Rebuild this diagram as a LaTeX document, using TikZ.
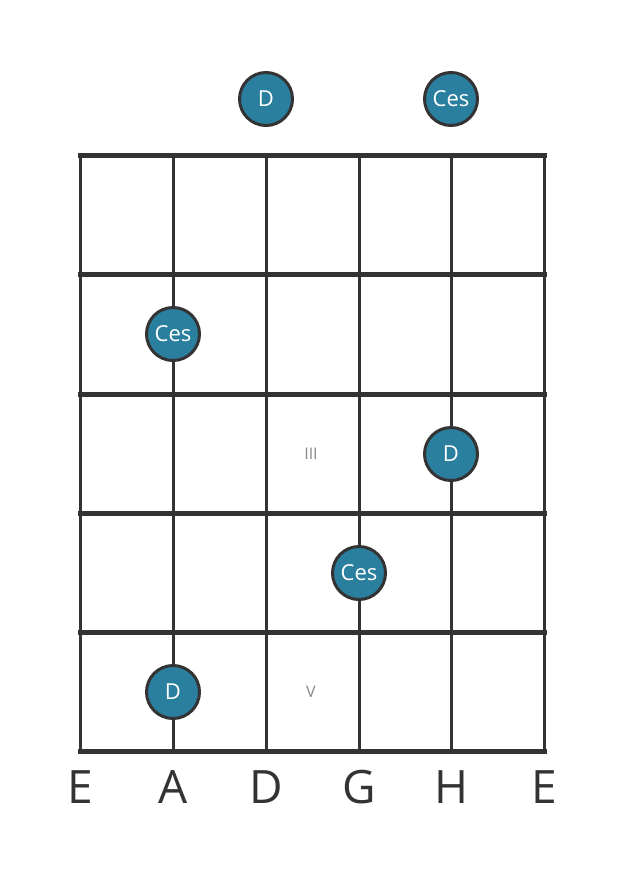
\documentclass[tikz,border=0pt]{standalone}
\usepackage{fontspec}
\setmainfont{Open Sans}
\usepackage{tikz}
\usetikzlibrary{positioning}
\definecolor{GridGray}{HTML}{333333}
\definecolor{DotTeal}{HTML}{2A7F9E}
\definecolor{LabelGray}{HTML}{888888}
\tikzset{
  fretline/.style={draw=GridGray, line width=5pt, line cap=rect},
  stringline/.style={draw=GridGray, line width=3pt},
  notedot/.style={circle, draw=GridGray, fill=DotTeal, line width=3pt, minimum size=53pt, inner sep=0pt, text=white, font=\fontsize{22}{22}\selectfont},
  fretlabel/.style={text=LabelGray, font=\fontsize{16}{16}\selectfont},
  stringname/.style={text=GridGray, font=\fontsize{46}{46}\selectfont}
}
\begin{document}
\begin{tikzpicture}[x=1pt, y=-1pt]
  \useasboundingbox (0,0) rectangle (626,873);

  % strings
  \foreach \x in {80,173,266,359,451,544}
    \draw[stringline] (\x,155) -- (\x,751);
  % frets
  \foreach \y in {155,274,394,513,632,751}
    \draw[fretline] (80,\y) -- (544,\y);

  % fret numbers
  \node[fretlabel] (fIII) at (311,454) {III};
  \node[fretlabel] (fV) at (311,692) {V};

  % notes
  \node[notedot] (openD) at (266,99) {D};
  \node[notedot] (openH) at (451,99) {Ces};
  \node[notedot] (aCes) at (173,334) {Ces};
  \node[notedot] (hD) at (451,454) {D};
  \node[notedot] (gCes) at (359,573) {Ces};
  \node[notedot] (aD) at (173,692) {D};

  % string names
  \node[stringname] (sE) at (80,787) {E};
  \node[stringname] (sA) at (173,787) {A};
  \node[stringname] (sD) at (266,787) {D};
  \node[stringname] (sG) at (359,787) {G};
  \node[stringname] (sH) at (451,787) {H};
  \node[stringname] (sEh) at (544,787) {E};
\end{tikzpicture}
\end{document}
